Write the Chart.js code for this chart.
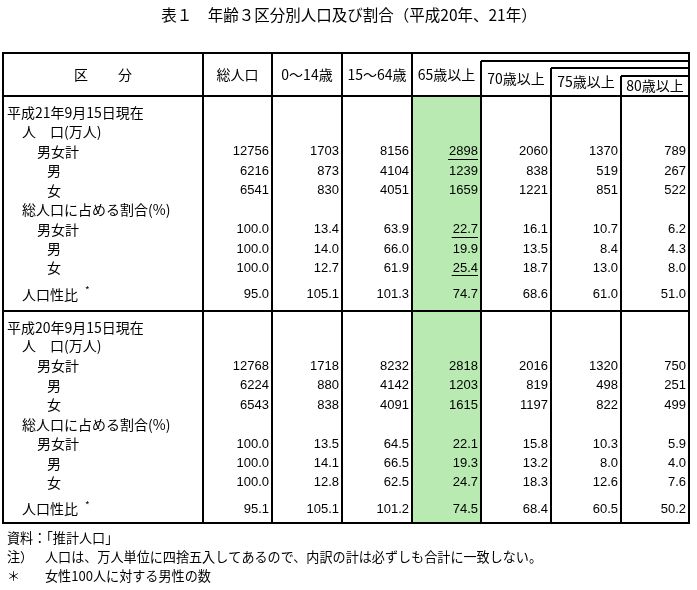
<!DOCTYPE html>
<html lang="ja">
<head>
<meta charset="utf-8">
<title>表1 年齢3区分別人口及び割合</title>
<script src="https://cdn.jsdelivr.net/npm/chart.js@4.4.1/dist/chart.umd.min.js"></script>
<style>
  html, body { margin: 0; padding: 0; background: #fff; }
  #wrap { width: 697px; height: 590px; }
</style>
</head>
<body>
<div id="wrap"><canvas id="tabela" width="697" height="590"></canvas></div>
<script>
// Texts
const titleText = '表１　年齢３区分別人口及び割合（平成20年、21年）';
const columns = ['総人口', '0～14歳', '15～64歳', '65歳以上', '70歳以上', '75歳以上', '80歳以上'];
const sectionTitles = ['平成21年9月15日現在', '平成20年9月15日現在'];
const rowLabels = ['人　口(万人)', '男女計', '男', '女', '総人口に占める割合(%)', '男女計', '男', '女', '人口性比'];
const footNotes = ['資料：「推計人口」', '注）', '＊'];
const footTexts = ['', '人口は、万人単位に四捨五入してあるので、内訳の計は必ずしも合計に一致しない。', '女性100人に対する男性の数'];

// Heisei 21 (2009)
const pop2009Total  = [12756, 1703, 8156, 2898, 2060, 1370, 789];
const pop2009Male   = [6216, 873, 4104, 1239, 838, 519, 267];
const pop2009Female = [6541, 830, 4051, 1659, 1221, 851, 522];
const share2009Total  = [100.0, 13.4, 63.9, 22.7, 16.1, 10.7, 6.2];
const share2009Male   = [100.0, 14.0, 66.0, 19.9, 13.5, 8.4, 4.3];
const share2009Female = [100.0, 12.7, 61.9, 25.4, 18.7, 13.0, 8.0];
const ratio2009 = [95.0, 105.1, 101.3, 74.7, 68.6, 61.0, 51.0];

// Heisei 20 (2008)
const pop2008Total  = [12768, 1718, 8232, 2818, 2016, 1320, 750];
const pop2008Male   = [6224, 880, 4142, 1203, 819, 498, 251];
const pop2008Female = [6543, 838, 4091, 1615, 1197, 822, 499];
const share2008Total  = [100.0, 13.5, 64.5, 22.1, 15.8, 10.3, 5.9];
const share2008Male   = [100.0, 14.1, 66.5, 19.3, 13.2, 8.0, 4.0];
const share2008Female = [100.0, 12.8, 62.5, 24.7, 18.3, 12.6, 7.6];
const ratio2008 = [95.1, 105.1, 101.2, 74.5, 68.4, 60.5, 50.2];

// Layout (in scale units, 1 unit = 1 px)
const colEdges = [3, 203, 272, 342, 412, 481, 551, 621, 689];
const headTops = [53, 53, 53, 53, 61, 68, 76];   // top of each header cell
const tableTop = 53, headBottom = 96, sectionSplit = 311, tableBottom = 523;
const rowOffsets = [0, 18.5, 38.5, 58, 77.5, 97, 116.5, 136, 155, 181.5];
const sectionTops = [113, 327.5];
const labelIndent = [22, 37, 47, 47, 22, 37, 47, 47, 22];
const highlightCol = 3;
const underlined = [[0, 1, 3], [0, 5, 3], [0, 7, 3]];  // [section, row, col]

const CJK = '"Noto Sans CJK JP", "Noto Sans", sans-serif';
const NUM = '"Liberation Sans", "Noto Sans", sans-serif';

const sections = [
  { rows: [null, pop2009Total, pop2009Male, pop2009Female, null, share2009Total, share2009Male, share2009Female, ratio2009] },
  { rows: [null, pop2008Total, pop2008Male, pop2008Female, null, share2008Total, share2008Male, share2008Female, ratio2008] }
];
const decimalRows = [5, 6, 7, 8];

const tablePlugin = {
  id: 'tablePlugin',
  afterDatasetsDraw(chart) {
    const { ctx, scales: { x, y } } = chart;
    const px = v => x.getPixelForValue(v);
    const py = v => y.getPixelForValue(v);
    ctx.save();
    ctx.fillStyle = '#000';
    ctx.textBaseline = 'middle';

    // title
    ctx.font = '15.5px ' + CJK;
    ctx.textAlign = 'center';
    ctx.fillText(titleText, px(349), py(15));

    // lines
    ctx.strokeStyle = '#000';
    ctx.lineWidth = 2;
    const line = (x1, y1, x2, y2) => {
      ctx.beginPath();
      ctx.moveTo(px(x1), py(y1));
      ctx.lineTo(px(x2), py(y2));
      ctx.stroke();
    };
    const right = colEdges[colEdges.length - 1];
    line(colEdges[0] - 1, tableTop, right + 1, tableTop);
    line(colEdges[0], headBottom, right, headBottom);
    line(colEdges[0], sectionSplit, right, sectionSplit);
    line(colEdges[0] - 1, tableBottom, right + 1, tableBottom);
    line(colEdges[0], tableTop, colEdges[0], tableBottom);
    line(right, tableTop, right, tableBottom);
    for (let i = 1; i < colEdges.length - 1; i++) {
      const top = i <= 4 ? tableTop : headTops[i - 1];
      line(colEdges[i], top, colEdges[i], tableBottom);
      if (top > tableTop) line(colEdges[i], top, right, top);
    }

    // header
    ctx.font = '14px ' + CJK;
    ctx.textAlign = 'center';
    const c0 = (colEdges[0] + colEdges[1]) / 2;
    const hc = (tableTop + headBottom) / 2;
    ctx.fillText('区', px(c0 - 22), py(hc));
    ctx.fillText('分', px(c0 + 22), py(hc));
    columns.forEach((name, i) => {
      const cx = (colEdges[i + 1] + colEdges[i + 2]) / 2;
      const cy = (headTops[i] + headBottom) / 2;
      ctx.fillText(name, px(cx), py(cy));
    });

    // body
    sections.forEach((sec, s) => {
      const base = sectionTops[s];
      ctx.textAlign = 'left';
      ctx.font = '14px ' + CJK;
      ctx.fillText(sectionTitles[s], px(7), py(base));
      rowLabels.forEach((lab, r) => {
        const ry = base + rowOffsets[r + 1];
        ctx.textAlign = 'left';
        ctx.font = '14px ' + CJK;
        ctx.fillText(lab, px(labelIndent[r]), py(ry));
        if (r === rowLabels.length - 1) {
          const w = ctx.measureText(lab).width;
          ctx.font = '10px ' + CJK;
          ctx.fillText('*', px(labelIndent[r] + w + 7), py(ry - 4));
        }
        const vals = sec.rows[r];
        if (!vals) return;
        ctx.font = '13px ' + NUM;
        ctx.textAlign = 'right';
        vals.forEach((v, c) => {
          const txt = decimalRows.includes(r) ? v.toFixed(1) : String(v);
          const rx = colEdges[c + 2] - 3;
          ctx.fillText(txt, px(rx), py(ry));
          if (underlined.some(u => u[0] === s && u[1] === r && u[2] === c)) {
            const w = ctx.measureText(txt).width;
            ctx.save();
            ctx.lineWidth = 1;
            ctx.beginPath();
            ctx.moveTo(px(rx - w - 1), Math.round(py(ry + 7)) + 0.5);
            ctx.lineTo(px(rx), Math.round(py(ry + 7)) + 0.5);
            ctx.stroke();
            ctx.restore();
          }
        });
      });
    });

    // footnotes
    ctx.textAlign = 'left';
    ctx.font = '13.1px ' + CJK;
    footNotes.forEach((n, i) => {
      const fy = 538 + i * 19;
      ctx.fillText(n, px(7), py(fy));
      if (footTexts[i]) ctx.fillText(footTexts[i], px(45), py(fy));
    });
    ctx.restore();
  }
};

const hlLeft = colEdges[highlightCol + 1], hlRight = colEdges[highlightCol + 2];

new Chart(document.getElementById('tabela'), {
  type: 'bar',
  data: {
    datasets: [{
      label: columns[highlightCol],
      data: [{ x: (hlLeft + hlRight) / 2, y: [headBottom, tableBottom] }],
      backgroundColor: '#b8eab1',
      borderWidth: 0,
      barThickness: hlRight - hlLeft
    }]
  },
  options: {
    responsive: false,
    animation: false,
    layout: { padding: 0 },
    plugins: { legend: { display: false }, tooltip: { enabled: false } },
    scales: {
      x: { type: 'linear', min: 0, max: 697, offset: false, display: false },
      y: { type: 'linear', min: 0, max: 590, reverse: true, display: false }
    }
  },
  plugins: [tablePlugin]
});
</script>
</body>
</html>
